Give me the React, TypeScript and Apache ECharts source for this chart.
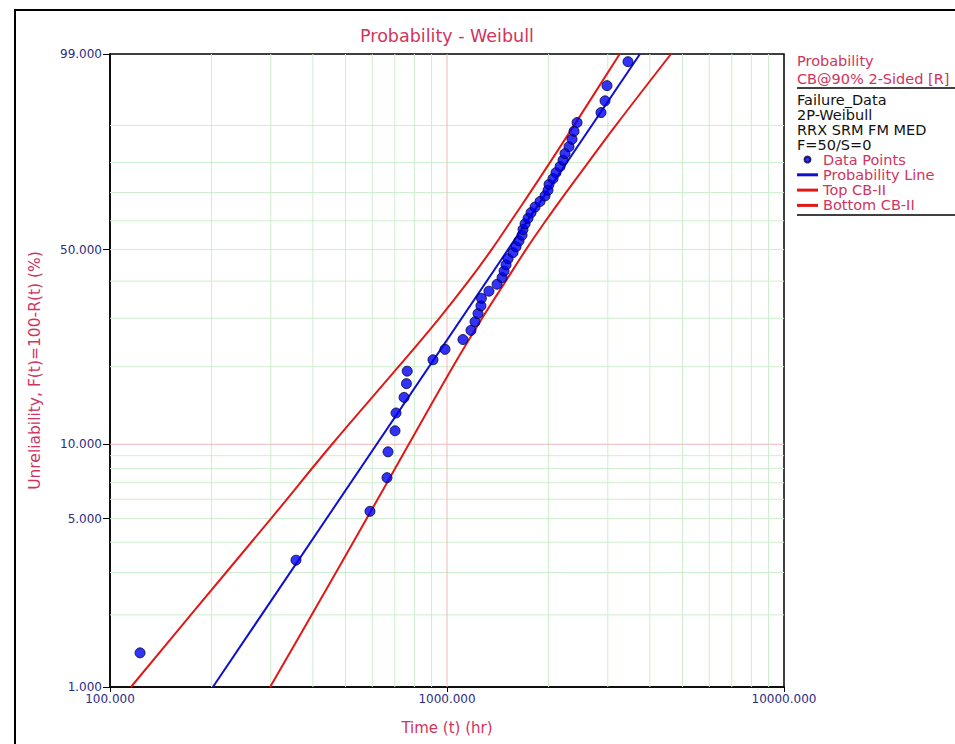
import React, { useEffect, useRef } from "react";
import * as echarts from "echarts";

// ---- data ----
const failureTimes = [
  122.8, 356.4, 590.8, 663.7, 668.3, 701.1, 705.9, 745.6, 758, 762,
  908.7, 986.4, 1115, 1178, 1211, 1236, 1261, 1265, 1332, 1408,
  1457, 1477, 1497, 1518, 1570, 1603, 1636, 1670, 1681, 1705,
  1740, 1776, 1825, 1888, 1954, 1994, 2008, 2064, 2106, 2165,
  2210, 2240, 2302, 2350, 2382, 2432, 2864, 2944, 2984, 3444,
];
const unreliability = [
  1.389, 3.373, 5.357, 7.341, 9.325, 11.31, 13.29, 15.28, 17.26, 19.25,
  21.23, 23.21, 25.2, 27.18, 29.17, 31.15, 33.13, 35.12, 37.1, 39.09,
  41.07, 43.06, 45.04, 47.02, 49.01, 50.99, 52.98, 54.96, 56.94, 58.93,
  60.91, 62.9, 64.88, 66.87, 68.85, 70.83, 72.82, 74.8, 76.79, 78.77,
  80.75, 82.74, 84.72, 86.71, 88.69, 90.67, 92.66, 94.64, 96.63, 98.61,
];
const probLineTimes = [202, 3738];
const probLineF = [1, 99];
const cbF = [1, 2, 5, 10, 20, 30, 40, 50, 60, 70, 80, 90, 99];
const topCbTimes = [115.4, 173.6, 300.4, 455.9, 718, 948.3, 1158, 1356, 1550, 1764, 2019, 2380, 3254];
const bottomCbTimes = [298.6, 396.9, 577.7, 770.2, 1041, 1271, 1494, 1715, 1963, 2254, 2623, 3165, 4620];

const yTickLabels = [1, 5, 10, 50, 99];
const hGridGreen = [2, 3, 4, 5, 6, 7, 8, 9, 20, 30, 40, 50, 60, 70, 80, 90];
const hGridRed = [10];
const vGridGreen = [200, 300, 400, 500, 600, 700, 800, 900, 2000, 3000, 4000, 5000, 6000, 7000, 8000, 9000];
const vGridRed = [1000];

const legendInfo = ["Failure_Data", "2P-Weibull", "RRX SRM FM MED", "F=50/S=0"];

// Weibull probability scale
const wb = (p: number) => Math.log(-Math.log(1 - p / 100));
const inv = (v: number) => 100 * (1 - Math.exp(-Math.exp(v)));

const FONT = "DejaVu Sans";
const CRIMSON = "#d0345e";
const NAVY = "#2c2c86";
const GRID_COLORS = ["#cdeecd", "#f2b8b8"];
const Y_MIN = wb(1);
const Y_MAX = wb(99);
const LINE_ICON = "path://M0,0H21V3H0Z";

export default function App() {
  const ref = useRef<HTMLDivElement>(null);
  useEffect(() => {
    if (!ref.current) return;
    const chart = echarts.init(ref.current, null, { renderer: "svg" });
    // [x, y, kind(0 vertical / 1 horizontal), colour index]
    const gridData: number[][] = [
      ...hGridGreen.map((f) => [1000, wb(f), 1, 0]),
      ...vGridGreen.map((t) => [t, wb(50), 0, 0]),
      ...hGridRed.map((f) => [1000, wb(f), 1, 1]),
      ...vGridRed.map((t) => [t, wb(50), 0, 1]),
    ];
    const option: any = {
      animation: false,
      backgroundColor: "#fff",
      textStyle: { fontFamily: FONT },
      grid: {
        left: 110,
        top: 54,
        right: 171,
        bottom: 57,
        show: true,
        borderColor: "#000",
        borderWidth: 1.5,
        backgroundColor: "#fff",
      },
      xAxis: {
        type: "log",
        logBase: 10,
        min: 100,
        max: 10000,
        name: "Time (t) (hr)",
        nameLocation: "middle",
        nameGap: 33,
        nameTextStyle: { color: CRIMSON, fontSize: 15, fontFamily: FONT },
        axisLine: { show: true, onZero: false, lineStyle: { color: "#000", width: 1.5 } },
        axisTick: { show: true, length: 5, lineStyle: { color: "#000" } },
        axisLabel: {
          color: NAVY,
          fontSize: 12,
          fontFamily: FONT,
          margin: 6,
          showMinLabel: true,
          showMaxLabel: true,
          formatter: (v: number) => Number(v).toFixed(3),
        },
        splitLine: { show: false },
      },
      yAxis: {
        type: "value",
        min: Y_MIN,
        max: Y_MAX,
        name: "Unreliability, F(t)=100-R(t) (%)",
        nameLocation: "middle",
        nameGap: 67,
        nameTextStyle: { color: CRIMSON, fontSize: 15.5, fontFamily: FONT },
        axisLine: { show: true, onZero: false, lineStyle: { color: "#000", width: 1.5 } },
        axisTick: {
          show: true,
          length: 7,
          lineStyle: { color: "#000" },
          customValues: yTickLabels.map(wb),
        },
        axisLabel: {
          color: NAVY,
          fontSize: 12,
          fontFamily: FONT,
          margin: 8,
          customValues: yTickLabels.map(wb),
          formatter: (v: number) => inv(v).toFixed(3),
        },
        splitLine: { show: false },
      },
      legend: {
        orient: "vertical",
        left: 797,
        top: 152,
        padding: 0,
        itemGap: 0.3,
        itemWidth: 21,
        itemHeight: 6,
        textStyle: { color: CRIMSON, fontSize: 14.5, fontFamily: FONT, lineHeight: 15 },
        data: [
          { name: "Data Points", icon: "circle" },
          { name: "Probability Line", icon: LINE_ICON },
          { name: "Top CB-II", icon: LINE_ICON },
          { name: "Bottom CB-II", icon: LINE_ICON },
        ],
      },
      graphic: [
        {
          type: "rect",
          z: -10,
          shape: { x: 15, y: 10, width: 1000, height: 800 },
          style: { fill: "none", stroke: "#000", lineWidth: 2 },
        },
        {
          type: "text",
          x: 447,
          y: 36,
          style: {
            text: "Probability - Weibull",
            fill: CRIMSON,
            font: `17.5px ${FONT}`,
            align: "center",
            verticalAlign: "middle",
          },
        },
        {
          type: "text",
          x: 797,
          y: 61,
          style: { text: "Probability", fill: CRIMSON, font: `14.5px ${FONT}`, verticalAlign: "middle" },
        },
        {
          type: "text",
          x: 797,
          y: 79,
          style: { text: "CB@90% 2-Sided [R]", fill: CRIMSON, font: `14.5px ${FONT}`, verticalAlign: "middle" },
        },
        {
          type: "line",
          shape: { x1: 797, y1: 88, x2: 955, y2: 88 },
          style: { stroke: "#000", lineWidth: 1.5 },
        },
        ...legendInfo.map((t, i) => ({
          type: "text",
          x: 797,
          y: 100 + i * 15,
          style: { text: t, fill: "#111", font: `14.5px ${FONT}`, verticalAlign: "middle" },
        })),
        {
          type: "line",
          shape: { x1: 797, y1: 215, x2: 955, y2: 215 },
          style: { stroke: "#000", lineWidth: 1.5 },
        },
      ],
      series: [
        {
          name: "grid",
          type: "custom",
          z: 1,
          silent: true,
          encode: { x: 0, y: 1 },
          data: gridData,
          renderItem: (params: any, api: any) => {
            const kind = api.value(2);
            const color = GRID_COLORS[api.value(3)];
            let p1: number[];
            let p2: number[];
            if (kind === 0) {
              const t = api.value(0);
              p1 = api.coord([t, Y_MIN]);
              p2 = api.coord([t, Y_MAX]);
            } else {
              const v = api.value(1);
              p1 = api.coord([100, v]);
              p2 = api.coord([10000, v]);
            }
            return {
              type: "line",
              shape: { x1: p1[0], y1: p1[1], x2: p2[0], y2: p2[1] },
              style: { stroke: color, lineWidth: 1 },
            };
          },
        },
        {
          name: "Top CB-II",
          type: "line",
          z: 3,
          smooth: 0.4,
          symbol: "none",
          color: "#e01818",
          lineStyle: { color: "#e01818", width: 2 },
          data: topCbTimes.map((t, i) => [t, wb(cbF[i])]),
        },
        {
          name: "Bottom CB-II",
          type: "line",
          z: 3,
          smooth: 0.4,
          symbol: "none",
          color: "#e01818",
          lineStyle: { color: "#e01818", width: 2 },
          data: bottomCbTimes.map((t, i) => [t, wb(cbF[i])]),
        },
        {
          name: "Probability Line",
          type: "line",
          z: 4,
          symbol: "none",
          color: "#1010cc",
          lineStyle: { color: "#1010cc", width: 2 },
          data: probLineTimes.map((t, i) => [t, wb(probLineF[i])]),
        },
        {
          name: "Data Points",
          type: "scatter",
          z: 5,
          symbol: "circle",
          symbolSize: 10,
          color: "#0000f5",
          itemStyle: { color: "#0000f5", borderColor: "#00003a", borderWidth: 1 },
          data: failureTimes.map((t, i) => [t, wb(unreliability[i])]),
        },
      ],
    };
    chart.setOption(option);
    return () => chart.dispose();
  }, []);
  return (
    <div
      ref={ref}
      style={{ position: "fixed", left: 0, top: 0, width: 955, height: 744, background: "#fff" }}
    />
  );
}
